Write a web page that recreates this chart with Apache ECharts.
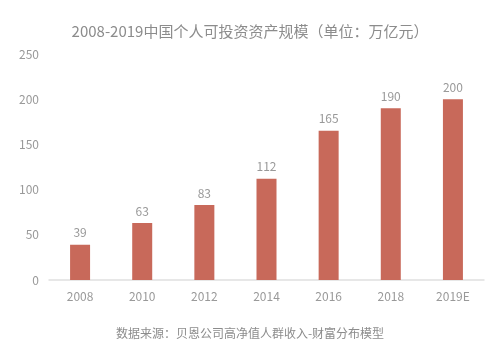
<!DOCTYPE html>
<html><head><meta charset="utf-8">
<script src="https://cdn.jsdelivr.net/npm/echarts@6/dist/echarts.min.js"></script>
<style>html,body{margin:0;padding:0;background:#fff}#c{width:500px;height:355px}</style>
</head><body><div id="c"></div>
<script>
const categories = ['2008','2010','2012','2014','2016','2018','2019E'];
const values = [39, 63, 83, 112, 165, 190, 200];
const yTicks = [0, 50, 100, 150, 200, 250];
const titleText = '2008-2019中国个人可投资资产规模（单位：万亿元）';
const sourceText = '数据来源：贝恩公司高净值人群收入-财富分布模型';
const font = '"Noto Sans CJK SC", "Noto Sans", sans-serif';
const chart = echarts.init(document.getElementById('c'));
chart.setOption({
  animation: false,
  textStyle: {fontFamily: font},
  title: [
    {text: titleText, left: 'center', top: 19, textStyle: {fontSize: 15, fontWeight: 'normal', color: '#8c8c8c', fontFamily: font}},
    {text: sourceText, left: 'center', top: 322, textStyle: {fontSize: 12, fontWeight: 'normal', color: '#8c8c8c', fontFamily: font}}
  ],
  grid: {left: 49, right: 16, top: 54, bottom: 75},
  xAxis: {
    type: 'category', data: categories,
    axisLine: {lineStyle: {color: '#e0e0e0', width: 1.5}},
    axisTick: {show: false},
    axisLabel: {color: '#999', fontSize: 12, margin: 10}
  },
  yAxis: {
    type: 'value', min: yTicks[0], max: yTicks[yTicks.length-1], interval: 50,
    axisLine: {show: false}, axisTick: {show: false},
    splitLine: {show: false},
    axisLabel: {color: '#999', fontSize: 12, margin: 10}
  },
  series: [{
    type: 'bar', data: values, barWidth: 20,
    itemStyle: {color: '#c8695a'},
    label: {show: true, position: 'top', color: '#999', fontSize: 12, distance: 6}
  }]
});
</script></body></html>
